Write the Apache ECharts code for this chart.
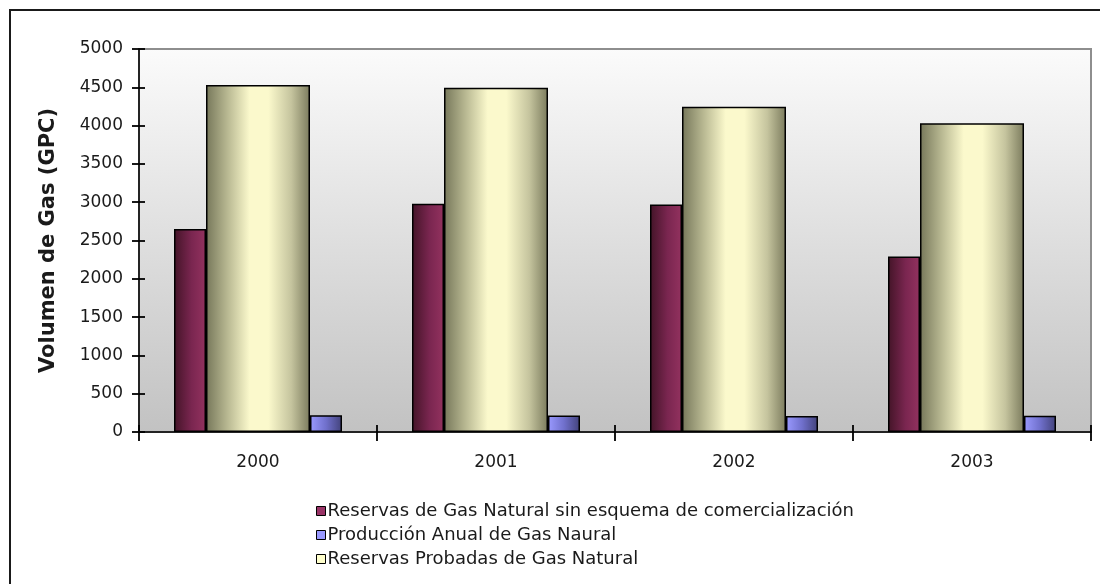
<!DOCTYPE html>
<html>
<head>
<meta charset="utf-8">
<script src="https://cdn.jsdelivr.net/npm/echarts@6/dist/echarts.min.js"></script>
<style>
  html, body { margin: 0; padding: 0; background: #ffffff; }
  #chart { width: 1100px; height: 584px; }
</style>
</head>
<body>
<div id="chart"></div>
<script>
// Gas volumes per year (GPC)
var years = ['2000', '2001', '2002', '2003'];
var reservasSinEsquema = [2650, 2980, 2970, 2290];
var reservasProbadas = [4530, 4495, 4245, 4030];
var produccionAnual = [220, 215, 210, 212];
var yTicks = { min: 0, max: 5000, step: 500 };

var nameSin = 'Reservas de Gas Natural sin esquema de comercialización';
var nameProd = 'Producción Anual de Gas Naural';
var nameProb = 'Reservas Probadas de Gas Natural';

var FONT = 'DejaVu Sans';
var TEXT = '#1a1a1a';

function hGrad(stops) {
  return new echarts.graphic.LinearGradient(0, 0, 1, 0, stops.map(function (s) {
    return { offset: s[0], color: s[1] };
  }));
}

var maroonFill = hGrad([[0, '#431427'], [0.55, '#7a2650'], [1, '#93325f']]);
var khakiFill = hGrad([[0, '#76775a'], [0.2, '#b6b690'], [0.42, '#fbf9cc'], [0.6, '#fbf9cc'], [0.82, '#c5c49e'], [1, '#7b7b5d']]);
var blueFill = hGrad([[0, '#9a9aff'], [0.5, '#7070cc'], [1, '#42427a']]);

var chart = echarts.init(document.getElementById('chart'), null, { renderer: 'canvas' });

var plotBox = { left: 139, right: 9, top: 49, bottom: 152 };
var tickLine = { color: '#000', width: 1.8 };

var yBase = {
  type: 'value',
  min: yTicks.min,
  max: yTicks.max,
  interval: yTicks.step,
  splitLine: { show: false }
};

chart.setOption({
  animation: false,
  backgroundColor: '#ffffff',
  textStyle: { fontFamily: FONT, color: TEXT },
  graphic: [{
    type: 'rect',
    shape: { x: 10, y: 10, width: 1200, height: 700 },
    style: { fill: null, stroke: '#1a1a1a', lineWidth: 2 },
    silent: true
  }],
  grid: [Object.assign({
    show: true,
    borderColor: '#8e8e8e',
    borderWidth: 2,
    backgroundColor: new echarts.graphic.LinearGradient(0, 0, 0, 1, [
      { offset: 0, color: '#fbfbfb' },
      { offset: 1, color: '#c2c2c2' }
    ])
  }, plotBox),
  // overlay grid carrying the crossing tick marks
  Object.assign({ show: false }, plotBox)],
  legend: {
    orient: 'vertical',
    left: 311,
    top: 497,
    itemWidth: 9,
    itemHeight: 9,
    itemGap: 6,
    icon: 'rect',
    textStyle: { fontFamily: FONT, fontSize: 18, lineHeight: 15, color: TEXT, padding: [0, 0, 0, -3] },
    data: [
      { name: nameSin, itemStyle: { color: '#993366', borderColor: '#000', borderWidth: 1 } },
      { name: nameProd, itemStyle: { color: '#9999ff', borderColor: '#000', borderWidth: 1 } },
      { name: nameProb, itemStyle: { color: '#ffffcc', borderColor: '#000', borderWidth: 1 } }
    ]
  },
  xAxis: [{
    type: 'category',
    gridIndex: 0,
    data: years,
    axisLine: { lineStyle: { color: '#000', width: 1.5 } },
    axisTick: { show: false },
    axisLabel: { fontFamily: FONT, fontSize: 17, color: TEXT, margin: 22 }
  }, {
    type: 'category',
    gridIndex: 1,
    data: years,
    offset: -7,
    axisLine: { show: false },
    axisTick: { show: true, length: 16, lineStyle: tickLine },
    axisLabel: { show: false }
  }],
  yAxis: [Object.assign({}, yBase, {
    gridIndex: 0,
    name: 'Volumen de Gas (GPC)',
    nameLocation: 'middle',
    nameGap: 80,
    nameTextStyle: { fontFamily: FONT, fontSize: 21, fontWeight: 'bold', color: TEXT },
    axisLine: { show: true, lineStyle: { color: '#000', width: 1.5 } },
    axisTick: { show: false },
    axisLabel: { fontFamily: FONT, fontSize: 17, color: TEXT, margin: 16, formatter: function (v) { return String(v); } }
  }), Object.assign({}, yBase, {
    gridIndex: 1,
    offset: -6,
    axisLine: { show: false },
    axisTick: { show: true, length: 13, lineStyle: tickLine },
    axisLabel: { show: false }
  })],
  series: [{
    name: nameSin,
    type: 'bar',
    data: reservasSinEsquema,
    barWidth: 32,
    barGap: '0%',
    itemStyle: { color: maroonFill, borderColor: '#000', borderWidth: 1.5 }
  }, {
    name: nameProb,
    type: 'bar',
    data: reservasProbadas,
    barWidth: 104,
    barGap: '0%',
    itemStyle: { color: khakiFill, borderColor: '#000', borderWidth: 1.5 }
  }, {
    name: nameProd,
    type: 'bar',
    data: produccionAnual,
    barWidth: 32,
    barGap: '0%',
    itemStyle: { color: blueFill, borderColor: '#000', borderWidth: 1.5 }
  }]
});
</script>
</body>
</html>
